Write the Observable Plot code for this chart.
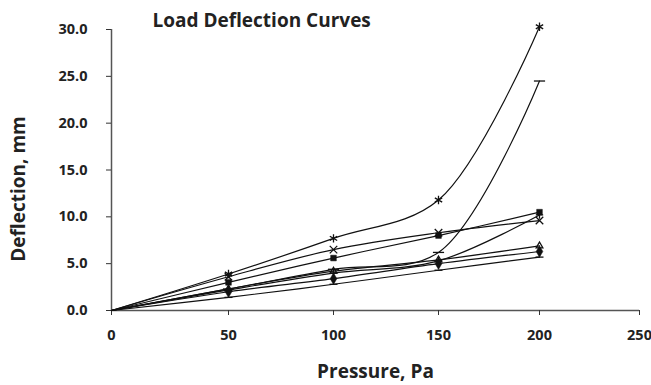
<!DOCTYPE html>
<html>
<head>
<meta charset="utf-8">
<script src="https://cdn.jsdelivr.net/npm/d3@7"></script>
<script src="https://cdn.jsdelivr.net/npm/@observablehq/plot@0.6"></script>
<style>
  html, body { margin: 0; padding: 0; background: #fff; }
  svg { font-family: "Open Sans", sans-serif; }
</style>
</head>
<body>
<div id="chart"></div>
<script>
const pressure = [0, 50, 100, 150, 200];
const xTicks = [0, 50, 100, 150, 200, 250];
const yTicks = [0, 5, 10, 15, 20, 25, 30];

const seriesA = [0, 3.9, 7.7, 11.8, 30.3];   // asterisk
const seriesB = [0, 2.3, 4.4, 6.2, 24.5];    // dash
const seriesC = [0, 3.0, 5.6, 8.0, 10.5];    // square
const seriesD = [0, 3.6, 6.5, 8.3, 9.6];     // x
const seriesE = [0, 2.2, 4.0, 5.3, 10.2];    // plus
const seriesF = [0, 2.3, 4.2, 5.4, 6.9];     // triangle
const seriesG = [0, 2.0, 3.4, 5.0, 6.3];     // diamond
const seriesH = [0, 1.4, 2.8, 4.3, 5.7];     // small dash

const dashSymbol = {
  draw(ctx, size) {
    const r = Math.sqrt(size) * 0.9;
    ctx.moveTo(-r, 0);
    ctx.lineTo(r, 0);
  }
};

const series = [
  {name: "A", values: seriesA, symbol: "asterisk", filled: false, r: 4},
  {name: "B", values: seriesB, symbol: dashSymbol, filled: false, r: 3.5},
  {name: "C", values: seriesC, symbol: "square", filled: true, r: 3.2},
  {name: "D", values: seriesD, symbol: "times", filled: false, r: 3.5},
  {name: "E", values: seriesE, symbol: "plus", filled: false, r: 2.5},
  {name: "F", values: seriesF, symbol: "triangle", filled: false, r: 2.5},
  {name: "G", values: seriesG, symbol: "diamond", filled: true, r: 3.5},
  {name: "H", values: seriesH, symbol: dashSymbol, filled: false, r: 2.5}
];

const rows = series.flatMap(s => pressure.map((p, i) => ({series: s.name, x: p, y: s.values[i]})));

const marks = [
  Plot.ruleY([0], {stroke: "#555", strokeWidth: 1.5}),
  Plot.ruleX([0], {stroke: "#555", strokeWidth: 1.5}),
  Plot.axisX({ticks: xTicks, tickSize: 5, tickPadding: 14, fontSize: 14.5, fontWeight: "bold", fill: "#222", stroke: "#333", label: null, tickFormat: d3.format("d")}),
  Plot.axisY({ticks: yTicks, tickSize: 5, tickPadding: 19, fontSize: 14.5, fontWeight: "bold", fill: "#222", stroke: "#333", label: null, tickFormat: d3.format(".1f")}),
  Plot.line(rows, {x: "x", y: "y", z: "series", stroke: "#111", strokeWidth: 1.2, curve: "catmull-rom"})
];

for (const s of series) {
  const data = rows.filter(d => d.series === s.name && d.x > 0);
  marks.push(Plot.dot(data, {
    x: "x", y: "y", symbol: s.symbol, r: s.r,
    fill: s.filled ? "#111" : "none",
    stroke: "#111", strokeWidth: s.filled ? 0.5 : 1.3
  }));
}

marks.push(
  Plot.text(["Load Deflection Curves"], {frameAnchor: "top-left", dx: 41, dy: -3, textAnchor: "start", lineAnchor: "bottom", fontSize: 19, fontWeight: "bold", fill: "#222"}),
  Plot.text(["Pressure, Pa"], {frameAnchor: "bottom", dy: 61, textAnchor: "middle", lineAnchor: "middle", fontSize: 19, fontWeight: "bold", fill: "#222"}),
  Plot.text(["Deflection, mm"], {frameAnchor: "left", dx: -93, dy: 19, textAnchor: "middle", lineAnchor: "middle", rotate: -90, fontSize: 19, fontWeight: "bold", fill: "#222"})
);

const chart = Plot.plot({
  width: 651,
  height: 385,
  marginTop: 29,
  marginBottom: 75,
  marginLeft: 111,
  marginRight: 12,
  style: {fontFamily: "Open Sans", background: "#fff", overflow: "visible"},
  x: {domain: xTicks, range: [111, 228, 333, 438, 539, 639], type: "linear"},
  y: {domain: [0, 30]},
  marks
});

document.getElementById("chart").appendChild(chart);
</script>
</body>
</html>
